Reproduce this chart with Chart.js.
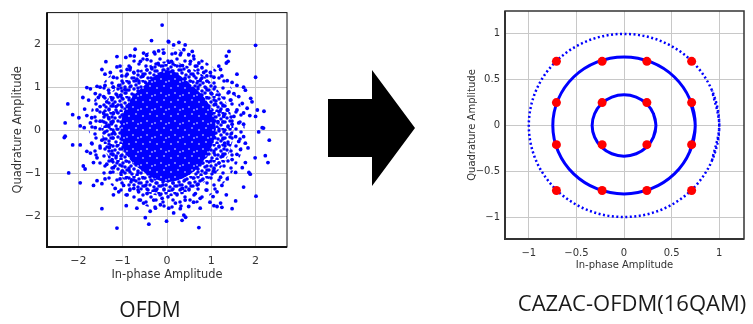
<!DOCTYPE html>
<html>
<head>
<meta charset="utf-8">
<script src="https://cdn.jsdelivr.net/npm/chart.js@4"></script>
<style>
  body { margin: 0; background: #fff; width: 753px; height: 324px; overflow: hidden; position: relative; }
  canvas { position: absolute; }
  .cap { position: absolute; font-family: "Open Sans", sans-serif; color: #1a1a1a; white-space: nowrap; line-height: 1; }
</style>
</head>
<body>
<canvas id="ofdm" width="300" height="290" style="left:0;top:0"></canvas>
<canvas id="cazac" width="313" height="280" style="left:440px;top:0"></canvas>
<svg width="753" height="324" style="position:absolute;left:0;top:0">
  <polygon points="328,99 372,99 372,70 415,128 372,186 372,157 328,157" fill="#000"/>
</svg>
<div class="cap" style="left:150px;top:299px;font-size:21px;transform:translateX(-50%)">OFDM</div>
<div class="cap" style="left:632px;top:291px;font-size:22px;transform:translateX(-50%)">CAZAC-OFDM(16QAM)</div>
<script>
// OFDM: received constellation, scattered points (I, Q)
var ofdmPoints = [
  [-0.11,2.44],[-0.35,2.08],[0.03,2.06],[-0.72,1.88],[-1.13,1.71],[-0.93,1.69],[-0.83,1.73],[-0.74,1.72],
  [-0.53,1.79],[-0.46,1.74],[-0.29,1.81],[-0.19,1.84],[-0.08,1.79],[-1.38,1.59],[-1.13,1.47],[-1.06,1.49],
  [-0.90,1.41],[-0.83,1.45],[-0.60,1.60],[-0.45,1.64],[-1.47,1.41],[-1.40,1.30],[-1.28,1.34],[-1.21,1.23],
  [-1.02,1.26],[-0.90,1.30],[-0.75,1.34],[-1.58,1.02],[-1.51,1.00],[-1.81,0.99],[-1.73,0.96],[-1.40,1.04],
  [-1.32,0.93],[-1.21,1.00],[-1.09,1.04],[-1.90,0.76],[-1.62,0.85],[-1.55,0.76],[-1.77,0.70],[-1.43,0.78],
  [-1.36,0.66],[-1.24,0.74],[-2.24,0.61],[-2.13,0.36],[-1.99,0.29],[-1.86,0.49],[-1.81,0.34],[-1.70,0.29],
  [-1.73,0.17],[-2.30,0.17],[-1.96,0.10],[-1.87,0.06],[-1.58,0.47],[-1.51,0.55],[-1.43,0.40],[-1.51,0.21],
  [-1.32,0.29],[-1.36,0.10],[-1.21,0.40],[-1.62,0.06],[-1.15,0.55],[-1.05,0.80],[-0.95,0.95],[-0.70,1.15],
  [-0.55,1.25],[-0.35,1.45],[-0.20,1.55],[-1.25,0.15],[-1.20,-0.05],
  [2.00,1.97],[1.40,1.83],[1.34,1.72],[1.38,1.60],[1.34,1.56],[1.17,1.49],[1.21,1.41],[1.58,1.30],
  [2.00,1.23],[0.98,1.34],[0.90,1.26],[1.06,1.23],[1.24,1.26],[1.36,1.15],[1.47,1.11],[1.58,1.04],
  [1.73,1.00],[1.77,0.93],[1.89,0.74],[1.92,0.66],[1.40,0.89],[1.51,0.85],[1.62,0.78],[1.43,0.70],
  [1.70,0.62],[1.81,0.51],[2.04,0.47],[2.19,0.44],[2.00,0.32],[1.87,0.34],[1.73,0.40],[1.58,0.47],
  [1.51,0.32],[1.62,0.17],[2.15,0.06],[1.73,0.14],[1.47,0.14],[1.36,0.47],[1.28,0.32],[0.04,2.05],
  [0.15,1.98],[0.27,2.04],[0.41,1.98],[0.38,1.87],[0.19,1.79],[0.30,1.75],[0.57,1.83],[0.60,1.72],
  [0.49,1.75],[0.53,1.60],[0.72,1.56],[0.79,1.45],[0.64,1.49],[0.83,1.34],[1.10,0.60],[1.20,0.45],
  [1.15,0.20],[1.00,0.85],[0.75,1.15],[0.35,1.50],[0.10,1.60],
  [-2.30,-0.14],[-2.32,-0.17],[-2.13,-0.34],[-1.96,-0.34],[-2.22,-0.99],[-1.96,-1.22],[-1.47,-1.82],[-1.13,-2.27],
  [-0.92,-1.75],[-1.81,-0.49],[-1.73,-0.53],[-1.89,-0.83],[-1.85,-0.90],[-1.66,-0.75],[-1.58,-0.64],[-1.51,-0.41],
  [-1.70,-0.30],[-1.47,-0.23],[-1.58,-1.17],[-1.66,-1.28],[-1.47,-1.24],[-1.40,-1.13],[-1.28,-0.98],[-1.17,-1.35],
  [-1.21,-1.50],[-1.09,-1.43],[-0.90,-1.50],[-0.84,-1.39],[-0.68,-1.81],[-0.60,-1.62],[-0.49,-2.03],[-0.41,-2.18],
  [-0.38,-1.88],[-0.26,-1.81],[-0.15,-1.73],[-0.53,-1.69],[-0.30,-1.62],[-0.11,-1.58],[-1.36,-0.79],[-1.21,-0.87],
  [-1.24,-0.68],[-1.06,-1.13],[-0.98,-1.28],[-0.75,-1.35],[-0.64,-1.43],[-0.45,-1.47],[-0.01,-2.11],[-1.30,-0.40],
  [-1.15,-0.60],[-1.00,-0.95],[-0.80,-1.15],[-0.25,-1.40],
  [2.07,-0.04],[2.18,0.05],[2.31,-0.23],[2.22,-0.59],[2.28,-0.75],[1.99,-0.64],[1.85,-0.98],[1.73,-1.32],
  [2.01,-1.53],[1.55,-1.64],[1.47,-1.82],[1.24,-1.79],[1.13,-1.77],[1.06,-1.75],[0.72,-2.26],[0.34,-2.09],
  [0.42,-2.02],[0.38,-1.97],[0.75,-1.81],[0.97,-1.67],[1.21,-1.69],[1.34,-1.50],[0.90,-1.39],[1.13,-1.43],
  [1.04,-1.54],[0.15,-1.92],[0.30,-1.82],[0.04,-1.81],[0.49,-1.77],[0.60,-1.67],[0.19,-1.69],[0.41,-1.62],
  [1.73,-0.15],[1.77,-0.30],[1.83,-0.41],[1.66,-0.45],[1.77,-0.75],[1.70,-0.87],[1.55,-0.98],[1.58,-0.56],
  [1.47,-0.68],[1.55,-0.15],[1.62,-0.26],[1.36,-1.13],[1.21,-1.09],[1.24,-1.28],[0.75,-1.58],[0.64,-1.47],
  [1.88,-1.02],[1.30,-0.30],[1.25,-0.60],[1.05,-0.95],[0.70,-1.25],[0.35,-1.35]
];
// outlines of the solid centre, the dense dotted band and the thinner band around it
var ofdmCore = [[0,1.4],[0.55,1.05],[0.95,0.6],[1.1,0.05],[0.95,-0.5],[0.55,-1.0],[0,-1.2],[-0.55,-0.95],
  [-0.95,-0.5],[-1.05,0.05],[-0.9,0.6],[-0.5,1.05],[0,1.4]];
var ofdmBand = [[0,1.6],[0.55,1.45],[1.05,1.05],[1.4,0.5],[1.5,-0.1],[1.3,-0.75],[0.85,-1.2],[0.3,-1.5],
  [-0.3,-1.5],[-0.85,-1.25],[-1.25,-0.8],[-1.45,-0.2],[-1.45,0.45],[-1.15,1.0],[-0.6,1.4],[0,1.6]];
var ofdmHalo = [[0,1.9],[0.7,1.7],[1.25,1.25],[1.65,0.6],[1.75,-0.1],[1.55,-0.85],[1.05,-1.45],[0.4,-1.8],
  [-0.35,-1.8],[-1.0,-1.5],[-1.5,-0.95],[-1.75,-0.2],[-1.7,0.5],[-1.4,1.15],[-0.75,1.65],[0,1.9]];
var ofdmTicks = [-2, -1, 0, 1, 2];

// CAZAC-OFDM: 16QAM reference points and the three constant-amplitude rings
var qamI = [-0.71, -0.23, 0.24, 0.71];
var qamQ = [0.70, 0.25, -0.21, -0.71];
var ringInner = [[0.335,0],[0.309,0.128],[0.237,0.237],[0.128,0.309],[0,0.335],[-0.128,0.309],[-0.237,0.237],
  [-0.309,0.128],[-0.335,0],[-0.309,-0.128],[-0.237,-0.237],[-0.128,-0.309],[0,-0.335],[0.128,-0.309],
  [0.237,-0.237],[0.309,-0.128],[0.335,0]];
var ringMiddle = [[0.748,0],[0.691,0.286],[0.529,0.529],[0.286,0.691],[0,0.748],[-0.286,0.691],[-0.529,0.529],
  [-0.691,0.286],[-0.748,0],[-0.691,-0.286],[-0.529,-0.529],[-0.286,-0.691],[0,-0.748],[0.286,-0.691],
  [0.529,-0.529],[0.691,-0.286],[0.748,0]];
var ringOuter = [[1,0],[0.924,0.383],[0.707,0.707],[0.383,0.924],[0,1],[-0.383,0.924],[-0.707,0.707],
  [-0.924,0.383],[-1,0],[-0.924,-0.383],[-0.707,-0.707],[-0.383,-0.924],[0,-1],[0.383,-0.924],
  [0.707,-0.707],[0.924,-0.383],[1,0]];

function xy(list) { return list.map(function(p){ return {x: p[0], y: p[1]}; }); }
// closed outline: repeat one vertex on each side so the spline has no corner where it joins
function loop(list) {
  var n = list.length;
  return xy([list[n - 2]].concat(list, [list[1]]));
}
function minus(v) { return String(Number(v.toFixed(2))).replace('-', '\u2212'); }

var blue = '#0000ff';
var tickColor = '#333';

function dotPattern(size, bg, dots, color, r) {
  var c = document.createElement('canvas');
  c.width = c.height = size;
  var g = c.getContext('2d');
  if (bg) { g.fillStyle = bg; g.fillRect(0, 0, size, size); }
  g.fillStyle = color;
  dots.forEach(function(d){ g.beginPath(); g.arc(d[0], d[1], r, 0, 2 * Math.PI); g.fill(); });
  return g.createPattern(c, 'repeat');
}
var coreFill = dotPattern(14, blue, [[3,4],[10,2],[7,9],[12,12],[1,11]], '#ffffff', 0.8);
var bandFill = dotPattern(16, null, [[1,2],[6,1],[11,3],[15,1],[3,6],[8,5],[13,7],[1,10],[6,9],[10,11],
  [15,10],[4,14],[9,15],[13,13]], blue, 1.8);
var haloFill = dotPattern(17, null, [[2,3],[11,2],[7,8],[15,10],[3,13],[10,15]], blue, 1.8);

var framePlugin = {
  id: 'frame',
  afterDraw: function(chart, args, opts) {
    var a = chart.chartArea, ctx = chart.ctx;
    ctx.save();
    ctx.strokeStyle = opts.color;
    ctx.lineWidth = opts.thin;
    ctx.strokeRect(a.left, a.top, a.right - a.left, a.bottom - a.top);
    ctx.lineWidth = opts.thick;
    ctx.beginPath();
    ctx.moveTo(a.left, a.top);
    ctx.lineTo(a.left, a.bottom);
    ctx.lineTo(a.right, a.bottom);
    ctx.stroke();
    ctx.restore();
  }
};

function axis(min, max, step, ticks, title, fs, tfs, pad, tpad, size, vertical) {
  return {
    type: 'linear', min: min, max: max,
    afterFit: function(s) { if (vertical) s.width = size; else s.height = size; },
    ticks: {
      stepSize: step, includeBounds: false, padding: pad, color: tickColor,
      font: {family: 'DejaVu Sans', size: tfs},
      callback: function(v) { return ticks.indexOf(Number(v.toFixed(2))) >= 0 ? minus(v) : ''; }
    },
    grid: {color: '#c8c8c8', lineWidth: 1, drawTicks: false},
    border: {display: false},
    title: {display: true, text: title, color: tickColor, padding: tpad,
      font: {family: 'DejaVu Sans', size: fs}}
  };
}

new Chart(document.getElementById('ofdm'), {
  type: 'scatter',
  data: {
    datasets: [
      {data: xy(ofdmPoints), pointRadius: 1.9, pointBackgroundColor: blue, pointBorderWidth: 0},
      {type: 'line', data: loop(ofdmCore), pointRadius: 0, borderWidth: 0, tension: 0.35,
        fill: 'shape', backgroundColor: coreFill},
      {type: 'line', data: loop(ofdmBand), pointRadius: 0, borderWidth: 0, tension: 0.35,
        fill: 'shape', backgroundColor: bandFill},
      {type: 'line', data: loop(ofdmHalo), pointRadius: 0, borderWidth: 0, tension: 0.35,
        fill: 'shape', backgroundColor: haloFill}
    ]
  },
  options: {
    responsive: false, animation: false,
    layout: {padding: {left: 0, top: 6, right: 13, bottom: 0}},
    plugins: {legend: {display: false}, tooltip: {enabled: false},
      frame: {color: '#111', thin: 1, thick: 2}},
    scales: {
      x: axis(-2.71, 2.71, 1, ofdmTicks, 'In-phase Amplitude', 11.4, 11, 8, {top: 0, bottom: 8}, 43, false),
      y: axis(-2.71, 2.73, 1, ofdmTicks, 'Quadrature Amplitude', 11.4, 11, 6, {top: 11, bottom: 0}, 47, true)
    }
  },
  plugins: [framePlugin]
});

var qamPoints = [];
qamQ.forEach(function(q){ qamI.forEach(function(i){ qamPoints.push({x: i, y: q}); }); });
var cazacTicks = [-1, -0.5, 0, 0.5, 1];

new Chart(document.getElementById('cazac'), {
  type: 'scatter',
  data: {
    datasets: [
      {data: qamPoints, pointRadius: 4.5, pointBackgroundColor: '#ff0000', pointBorderWidth: 0},
      {type: 'line', data: loop(ringInner), pointRadius: 0, borderColor: blue, borderWidth: 3, tension: 0.34, fill: false},
      {type: 'line', data: loop(ringMiddle), pointRadius: 0, borderColor: blue, borderWidth: 3, tension: 0.34, fill: false},
      {type: 'line', data: loop(ringOuter), pointRadius: 0, borderColor: blue, borderWidth: 2.5, borderDash: [2, 2.5],
        tension: 0.34, fill: false}
    ]
  },
  options: {
    responsive: false, animation: false,
    layout: {padding: {left: 0, top: 4, right: 9, bottom: 0}},
    plugins: {legend: {display: false}, tooltip: {enabled: false},
      frame: {color: '#333', thin: 1.5, thick: 2}},
    scales: {
      x: axis(-1.25, 1.26, 0.5, cazacTicks, 'In-phase Amplitude', 10, 10, 8, {top: 0, bottom: 9}, 41, false),
      y: axis(-1.24, 1.25, 0.5, cazacTicks, 'Quadrature Amplitude', 10, 10, 5, {top: 26, bottom: 0}, 65, true)
    }
  },
  plugins: [framePlugin]
});
</script>
</body>
</html>
